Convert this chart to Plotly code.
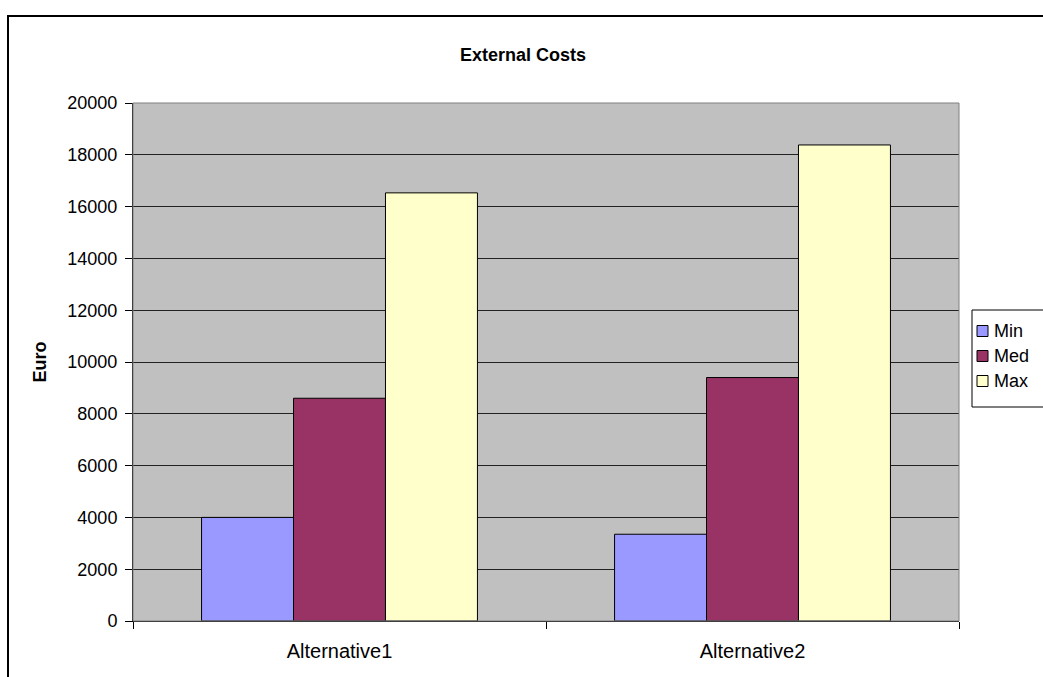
import plotly.graph_objects as go

categories = ["Alternative1", "Alternative2"]
series_names = ["Min", "Med", "Max"]
min_values = [4000, 3350]
med_values = [8600, 9400]
max_values = [16530, 18380]
colors = ["#9999FF", "#993366", "#FFFFCC"]
y_ticks = list(range(0, 20001, 2000))
y_tick_labels = [str(v) for v in y_ticks]

L, R, T, B = 133, 959, 103, 621
PW, PH = R - L, B - T


def px_x(x):
    return (x - L) / PW


def px_y(y):
    return (B - y) / PH


fig = go.Figure()
for name, vals, col in zip(series_names, [min_values, med_values, max_values], colors):
    fig.add_trace(go.Bar(
        x=categories, y=vals, name=name, showlegend=False,
        marker=dict(color=col, line=dict(color="black", width=1)),
    ))

font = "Liberation Sans, Arial, sans-serif"
fig.update_layout(
    width=1043, height=677,
    margin=dict(l=L, r=1043 - R, t=T, b=677 - B, autoexpand=False),
    paper_bgcolor="white", plot_bgcolor="#C0C0C0",
    barmode="group", bargap=0.332, bargroupgap=0,
    font=dict(family=font, size=18, color="black"),
    title=dict(text="<b>External Costs</b>", x=px_x(523), xanchor="center", xref="paper",
               y=1 - 55/677, yanchor="middle", font=dict(size=18)),
    showlegend=False,
    xaxis=dict(
        type="category", range=[-0.5, 1.5], tickson="boundaries",
        ticks="outside", ticklen=7, tickcolor="black", tickwidth=1,
        showline=True, linecolor="black", linewidth=1,
        showgrid=False, tickfont=dict(size=20), ticklabelstandoff=12,
    ),
    yaxis=dict(
        range=[0, 20000], tickvals=y_ticks, ticktext=y_tick_labels,
        ticks="outside", ticklen=7, tickcolor="black",
        showline=True, linecolor="black", linewidth=1,
        showgrid=True, gridcolor="#222222", gridwidth=1,
        zeroline=False, tickfont=dict(size=18), ticklabelstandoff=4,
        title=dict(text="<b>Euro</b>", font=dict(size=18), standoff=16),
    ),
)

# plot area border (top/right gray)
fig.add_shape(type="rect", xref="paper", yref="paper", x0=0, x1=1, y0=0, y1=1,
              line=dict(color="#808080", width=1), layer="above")
# outer chart frame
fig.add_shape(type="rect", xref="paper", yref="paper",
              x0=px_x(8), x1=1.3, y0=-0.3, y1=px_y(16),
              line=dict(color="black", width=2), layer="above")

# legend box (drawn manually to match the reference placement)
fig.add_shape(type="rect", xref="paper", yref="paper",
              x0=px_x(972), x1=px_x(1060), y0=px_y(407), y1=px_y(310),
              line=dict(color="black", width=1), fillcolor="white", layer="above")
for i, (name, col) in enumerate(zip(series_names, colors)):
    cy = 331 + 25 * i
    fig.add_shape(type="rect", xref="paper", yref="paper",
                  x0=px_x(977), x1=px_x(988), y0=px_y(cy + 5.5), y1=px_y(cy - 5.5),
                  line=dict(color="black", width=1), fillcolor=col, layer="above")
    fig.add_annotation(xref="paper", yref="paper", x=px_x(992), y=px_y(cy),
                       xanchor="left", yanchor="middle", text=name, showarrow=False,
                       font=dict(size=18), xshift=0)

fig.write_html("out.html")
